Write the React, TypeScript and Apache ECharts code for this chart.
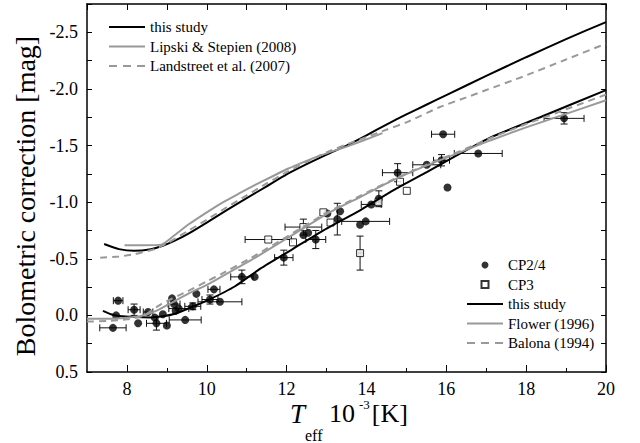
import React, { useEffect, useRef } from 'react';
import * as echarts from 'echarts';

// ---- axis ticks ----
const xMajorTicks = [8, 10, 12, 14, 16, 18, 20];
const xMinorTicks = [9, 11, 13, 15, 17, 19];
const yTickLabels = [-2.5, -2.0, -1.5, -1.0, -0.5, 0.0, 0.5];

// ---- calibration curves (Teff in 10^3 K, BC in mag) ----
const thisStudyUpperT = [7.43, 7.8, 8.19, 8.6, 8.9, 9.2, 9.53, 10.0, 10.5, 11.0, 11.5, 12.0, 12.5, 13.0, 13.5, 14.0, 14.5, 15.0, 15.5, 16.0, 17.0, 18.0, 19.0, 20.0];
const thisStudyUpperBC = [-0.63, -0.585, -0.57, -0.585, -0.615, -0.66, -0.72, -0.82, -0.93, -1.035, -1.14, -1.245, -1.335, -1.42, -1.5, -1.59, -1.685, -1.775, -1.86, -1.945, -2.115, -2.28, -2.44, -2.59];

const lipskiT = [7.94, 8.4, 8.86, 9.2, 9.53, 10.0, 10.36, 10.8, 11.2, 11.6, 12.03, 12.5, 12.87, 13.2, 13.54, 14.0, 14.4];
const lipskiBC = [-0.62, -0.62, -0.625, -0.71, -0.8, -0.91, -0.99, -1.075, -1.15, -1.22, -1.295, -1.365, -1.415, -1.455, -1.495, -1.555, -1.61];

const landstreetT = [7.33, 7.8, 8.19, 8.69, 9.0, 9.5, 10.0, 10.5, 11.0, 11.5, 12.0, 12.5, 13.0, 13.5, 14.0, 14.5, 15.0, 15.84, 16.5, 17.0, 17.93, 19.0, 20.0];
const landstreetBC = [-0.51, -0.52, -0.54, -0.585, -0.635, -0.74, -0.845, -0.955, -1.06, -1.165, -1.265, -1.355, -1.44, -1.51, -1.575, -1.64, -1.705, -1.84, -1.925, -1.99, -2.11, -2.26, -2.4];

const thisStudyLowerT = [7.4, 7.6, 7.8, 8.2, 8.6, 8.9, 9.2, 9.6, 10.03, 10.7, 11.33, 12.17, 13.0, 13.84, 14.67, 15.51, 16.34, 17.1, 18.35, 20.0];
const thisStudyLowerBC = [-0.04, -0.01, 0.005, 0.015, 0.018, 0.008, -0.015, -0.07, -0.135, -0.255, -0.41, -0.59, -0.767, -0.928, -1.104, -1.266, -1.428, -1.57, -1.75, -1.99];

const flowerT = [7.0, 7.5, 8.0, 8.4, 8.7, 9.0, 9.53, 10.0, 10.36, 11.12, 11.33, 12.17, 13.0, 13.84, 14.67, 15.51, 16.34, 17.1, 18.0, 19.0, 20.0];
const flowerBC = [0.03, 0.03, 0.02, 0.0, -0.035, -0.09, -0.19, -0.27, -0.34, -0.49, -0.535, -0.715, -0.895, -1.045, -1.195, -1.325, -1.44, -1.545, -1.66, -1.78, -1.9];

const balonaT = [7.0, 7.5, 8.0, 8.4, 8.86, 9.53, 10.0, 10.36, 11.12, 12.17, 13.0, 13.84, 14.67, 15.51, 16.34, 17.1, 18.0, 19.0, 20.0];
const balonaBC = [0.055, 0.05, 0.035, 0.005, -0.1, -0.215, -0.3, -0.365, -0.51, -0.73, -0.905, -1.055, -1.2, -1.33, -1.45, -1.565, -1.69, -1.82, -1.95];

// ---- stars ----
const cp24Teff = [7.65, 7.73, 7.78, 8.18, 8.28, 8.53, 8.70, 8.74, 8.90, 9.00, 9.13, 9.18, 9.22, 9.30, 9.46, 9.65, 9.74, 10.08, 10.18, 10.33, 10.88, 11.20, 11.93, 12.42, 12.54, 12.73, 13.02, 13.27, 13.34, 13.84, 13.98, 14.12, 14.31, 14.78, 15.51, 15.88, 15.92, 16.03, 16.80, 18.95];
const cp24BC = [0.11, 0.0, -0.13, -0.05, 0.07, -0.03, 0.02, 0.07, -0.01, 0.09, -0.15, -0.1, -0.04, -0.06, 0.04, -0.08, -0.19, -0.14, -0.23, -0.12, -0.34, -0.34, -0.51, -0.71, -0.73, -0.67, -0.9, -0.85, -0.92, -0.8, -0.83, -0.98, -1.03, -1.26, -1.33, -1.37, -1.6, -1.13, -1.43, -1.74];
const cp24TeffErr = [0.33, 0, 0.12, 0.15, 0, 0.12, 0, 0.25, 0, 0, 0, 0.15, 0, 0.25, 0.4, 0.2, 0, 0.2, 0.15, 0.55, 0.28, 0, 0.23, 0, 0, 0.25, 0, 0, 0, 0, 0.6, 0.25, 0, 0.38, 0.35, 0.2, 0.29, 0, 0.6, 0.5];
const cp24BCErr = [0, 0, 0, 0.05, 0, 0, 0, 0.06, 0, 0, 0, 0, 0, 0, 0, 0.03, 0, 0.04, 0, 0, 0.06, 0, 0.066, 0, 0, 0.08, 0, 0.14, 0, 0, 0, 0, 0.07, 0.08, 0, 0.05, 0, 0, 0, 0.05];

const cp3Teff = [11.54, 12.16, 12.42, 12.92, 13.10, 13.84, 14.30, 14.84, 15.01];
const cp3BC = [-0.67, -0.645, -0.78, -0.91, -0.82, -0.55, -1.0, -1.18, -1.1];
const cp3TeffErr = [0.58, 0, 0.46, 0, 0, 0.05, 0.05, 0, 0];
const cp3BCErr = [0, 0, 0.07, 0, 0, 0.15, 0, 0, 0];

const SERIF = 'Liberation Serif';
const GRAY = '#999999';

const SOLID_ICON = 'path://M0,0h36v2h-36z';
const DASH_ICON = 'path://M0,0h8v2h-8z M14,0h8v2h-8z M28,0h8v2h-8z';
const SQUARE_ICON = 'path://M0,0h10v10h-10z';

const zip = (a: number[], b: number[]) => a.map((v, i) => [v, b[i]]);
const zip4 = (a: number[], b: number[], c: number[], d: number[]) => a.map((v, i) => [v, b[i], c[i], d[i]]);

const errRender = (params: any, api: any) => {
  const x = api.value(0);
  const y = api.value(1);
  const xe = api.value(2);
  const ye = api.value(3);
  const style = { stroke: '#111', lineWidth: 1 };
  const cap = 3.5;
  const children: any[] = [];
  if (xe > 0) {
    const l = api.coord([x - xe, y]);
    const r = api.coord([x + xe, y]);
    children.push({ type: 'line', shape: { x1: l[0], y1: l[1], x2: r[0], y2: r[1] }, style });
    children.push({ type: 'line', shape: { x1: l[0], y1: l[1] - cap, x2: l[0], y2: l[1] + cap }, style });
    children.push({ type: 'line', shape: { x1: r[0], y1: r[1] - cap, x2: r[0], y2: r[1] + cap }, style });
  }
  if (ye > 0) {
    const t = api.coord([x, y - ye]);
    const b = api.coord([x, y + ye]);
    children.push({ type: 'line', shape: { x1: t[0], y1: t[1], x2: b[0], y2: b[1] }, style });
    children.push({ type: 'line', shape: { x1: t[0] - cap, y1: t[1], x2: t[0] + cap, y2: t[1] }, style });
    children.push({ type: 'line', shape: { x1: b[0] - cap, y1: b[1], x2: b[0] + cap, y2: b[1] }, style });
  }
  return { type: 'group', children };
};

const lineSeries = (name: string, t: number[], bc: number[], color: string, dashed: boolean) => ({
  type: 'line',
  name,
  data: zip(t, bc),
  symbol: 'none',
  smooth: 0.2,
  z: 5,
  lineStyle: { color, width: 2, type: dashed ? [7, 5] : 'solid' },
  itemStyle: { color },
});

const legendText = { fontFamily: SERIF, fontSize: 15, color: '#000', lineHeight: 16 };

export default function App() {
  const ref = useRef<HTMLDivElement>(null);
  useEffect(() => {
    document.body.style.margin = '0';
    if (!ref.current) return;
    const chart = echarts.init(ref.current, undefined, { renderer: 'svg' });
    const axisFont = { fontFamily: SERIF, fontSize: 18, color: '#000' };
    const option: any = {
      animation: false,
      backgroundColor: '#fff',
      textStyle: { fontFamily: SERIF },
      grid: { left: 87, right: 34, top: 4, bottom: 71, containLabel: false },
      xAxis: [
        {
          type: 'value', min: 7, max: 20, interval: 1, position: 'bottom',
          axisLine: { show: true, onZero: false, lineStyle: { color: '#000', width: 1.5 } },
          axisTick: { show: true, inside: true, length: 7, customValues: xMajorTicks, lineStyle: { color: '#000', width: 1 } },
          axisLabel: { ...axisFont, margin: 8, customValues: xMajorTicks, formatter: (v: number) => String(v) },
          splitLine: { show: false },
        },
        {
          type: 'value', min: 7, max: 20, interval: 1, position: 'bottom',
          axisLine: { show: false, onZero: false },
          axisTick: { show: true, inside: true, length: 4, customValues: xMinorTicks, lineStyle: { color: '#000', width: 1 } },
          axisLabel: { show: false },
          splitLine: { show: false },
        },
        {
          type: 'value', min: 7, max: 20, interval: 1, position: 'top',
          axisLine: { show: true, onZero: false, lineStyle: { color: '#000', width: 1.5 } },
          axisTick: { show: true, inside: true, length: 6, lineStyle: { color: '#000', width: 1 } },
          axisLabel: { show: false },
          splitLine: { show: false },
        },
      ],
      yAxis: [
        {
          type: 'value', min: -2.75, max: 0.5, interval: 0.25, inverse: true, position: 'left',
          axisLine: { show: true, onZero: false, lineStyle: { color: '#000', width: 1.5 } },
          axisTick: { show: true, inside: true, length: 5, lineStyle: { color: '#000', width: 1 } },
          axisLabel: {
            ...axisFont, margin: 9,
            formatter: (v: number) => {
              const hit = yTickLabels.find((t) => Math.abs(t - v) < 1e-6);
              return hit === undefined ? '' : hit.toFixed(1);
            },
          },
          splitLine: { show: false },
        },
        {
          type: 'value', min: -2.75, max: 0.5, interval: 0.25, inverse: true, position: 'right',
          axisLine: { show: true, onZero: false, lineStyle: { color: '#000', width: 1.5 } },
          axisTick: { show: true, inside: true, length: 5, lineStyle: { color: '#000', width: 1 } },
          axisLabel: { show: false },
          splitLine: { show: false },
        },
      ],
      legend: [
        {
          data: [
            { name: 'this study', icon: SOLID_ICON },
            { name: 'Lipski & Stepien (2008)', icon: SOLID_ICON },
            { name: 'Landstreet et al. (2007)', icon: DASH_ICON },
          ],
          orient: 'vertical', left: 104, top: 14, itemWidth: 36, itemHeight: 7, itemGap: 3.5,
          textStyle: legendText,
          selectedMode: false,
        },
        {
          data: [
            { name: 'CP2/4', icon: 'circle' },
            { name: 'CP3', icon: SQUARE_ICON },
            { name: 'this study', icon: SOLID_ICON },
            { name: 'Flower (1996)', icon: SOLID_ICON },
            { name: 'Balona (1994)', icon: DASH_ICON },
          ],
          orient: 'vertical', left: 462, top: 252, itemWidth: 36, itemHeight: 7, itemGap: 3.5,
          textStyle: legendText,
          selectedMode: false,
        },
      ],
      graphic: [
        {
          type: 'text', x: 25, y: 196, rotation: Math.PI / 2,
          style: { text: 'Bolometric correction [mag]', font: `28px "${SERIF}"`, fill: '#000', textAlign: 'center', textVerticalAlign: 'middle' },
        },
        {
          type: 'text', x: 290, y: 398,
          style: {
            text: '{t|T}{sub|eff}{n| 10}{sup|-3}{k|[K]}',
            textAlign: 'left', textVerticalAlign: 'top', fill: '#000',
            rich: {
              t: { fontFamily: SERIF, fontStyle: 'italic', fontSize: 27, lineHeight: 28, padding: [2, 0, 0, 0], verticalAlign: 'top' },
              sub: { fontFamily: SERIF, fontSize: 16, lineHeight: 16, padding: [29, 0, 0, 0], verticalAlign: 'top' },
              n: { fontFamily: SERIF, fontSize: 26, lineHeight: 28, padding: [2, 0, 0, 0], verticalAlign: 'top' },
              sup: { fontFamily: SERIF, fontSize: 13, lineHeight: 13, padding: [0, 2, 0, 4], verticalAlign: 'top' },
              k: { fontFamily: SERIF, fontSize: 26, lineHeight: 28, padding: [2, 0, 0, 0], verticalAlign: 'top' },
            },
          },
        },
      ],
      series: [
        {
          type: 'custom', name: 'errCP24', renderItem: errRender, data: zip4(cp24Teff, cp24BC, cp24TeffErr, cp24BCErr),
          encode: { x: 0, y: 1 }, z: 2, silent: true,
        },
        {
          type: 'custom', name: 'errCP3', renderItem: errRender, data: zip4(cp3Teff, cp3BC, cp3TeffErr, cp3BCErr),
          encode: { x: 0, y: 1 }, z: 2, silent: true,
        },
        {
          type: 'scatter', name: 'CP2/4', data: zip(cp24Teff, cp24BC), symbol: 'circle', symbolSize: 8, z: 3,
          itemStyle: { color: '#000' },
        },
        {
          type: 'scatter', name: 'CP3', data: zip(cp3Teff, cp3BC), symbol: 'rect', symbolSize: 7, z: 3,
          itemStyle: { color: '#fff', borderColor: '#000', borderWidth: 1 },
        },
        lineSeries('this study', thisStudyUpperT, thisStudyUpperBC, '#000', false),
        lineSeries('Lipski & Stepien (2008)', lipskiT, lipskiBC, GRAY, false),
        lineSeries('Landstreet et al. (2007)', landstreetT, landstreetBC, GRAY, true),
        lineSeries('this study', thisStudyLowerT, thisStudyLowerBC, '#000', false),
        lineSeries('Flower (1996)', flowerT, flowerBC, GRAY, false),
        lineSeries('Balona (1994)', balonaT, balonaBC, GRAY, true),
      ],
    };
    chart.setOption(option);
    return () => chart.dispose();
  }, []);
  return <div ref={ref} style={{ width: 640, height: 443 }} />;
}
